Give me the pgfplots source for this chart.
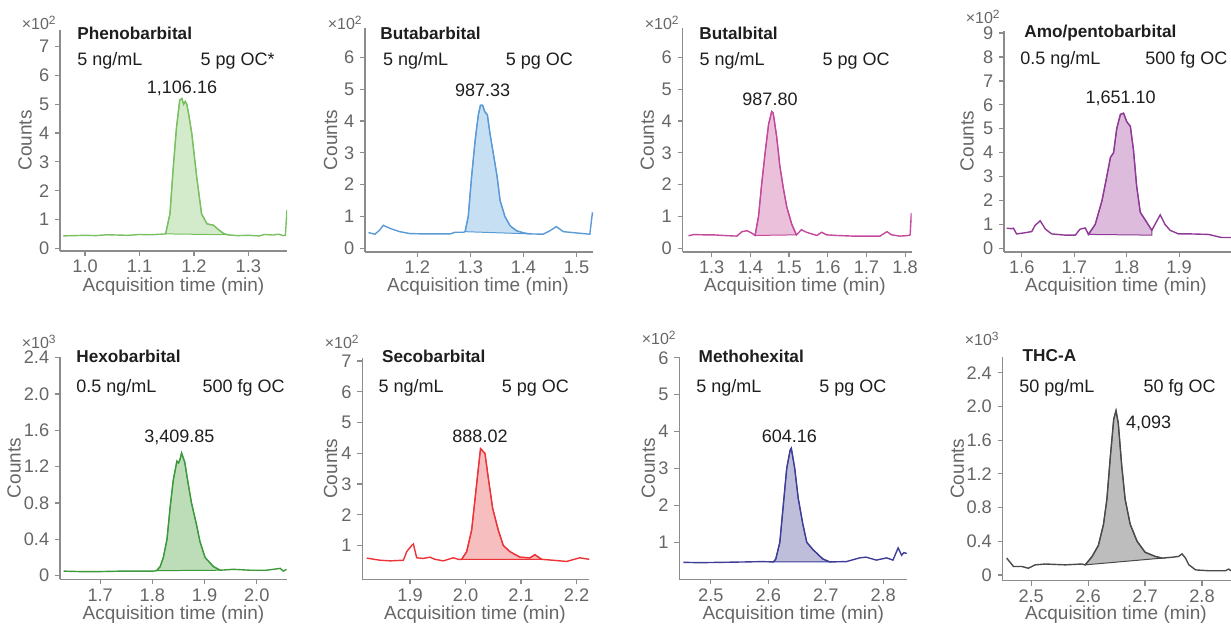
\documentclass[border=0pt]{standalone}
\usepackage{pgfplots}
\pgfplotsset{compat=1.18}
\usepackage{fontspec}
\setmainfont{Liberation Sans}

\definecolor{axgray}{HTML}{8C8C8C}
\definecolor{tkgray}{HTML}{666666}
\definecolor{txt}{HTML}{1E1E1E}
\definecolor{lA}{HTML}{78C060}\definecolor{fA}{HTML}{D3EACB}
\definecolor{lB}{HTML}{5A9AD6}\definecolor{fB}{HTML}{C7DFF3}
\definecolor{lC}{HTML}{C4489C}\definecolor{fC}{HTML}{EBC0DB}
\definecolor{lD}{HTML}{8E3A96}\definecolor{fD}{HTML}{DDBBDD}
\definecolor{lE}{HTML}{3C9A3C}\definecolor{fE}{HTML}{BDDDB8}
\definecolor{lF}{HTML}{EC3338}\definecolor{fF}{HTML}{F6BEBE}
\definecolor{lG}{HTML}{3E3E9A}\definecolor{fG}{HTML}{BEBEDB}
\definecolor{lH}{HTML}{4A4A4A}\definecolor{fH}{HTML}{BDBDBD}

\newcommand{\lab}{\fontsize{9}{10}\selectfont}
\newcommand{\axl}{\fontsize{9.5}{10}\selectfont}
\newcommand{\tkl}{\fontsize{9.1}{10}\selectfont}
\newcommand{\ttl}{\fontsize{8.6}{10}\selectfont\bfseries}

\pgfplotsset{chrom/.style={
  scale only axis, anchor=south west,
  axis lines=left, axis line style={-, draw=axgray, line width=0.7pt},
  tick align=outside, major tick length=2.5pt,
  every tick/.style={axgray, line width=0.6pt},
  tick label style={font=\tkl, text=tkgray},
  xticklabel style={yshift=1.4pt},
  yticklabel style={xshift=0.6pt},
  /pgf/number format/assume math mode=true,
  xticklabel={\pgfmathprintnumber[fixed,fixed zerofill,precision=1]{\tick}},
  scaled ticks=false,
}}

\begin{document}
\begin{tikzpicture}
\path[use as bounding box] (0,0) rectangle (615.5pt,-312.5pt);

% ---- row 1 ----
\begin{axis}[chrom, at={(30pt,-125.5pt)}, width=113.5pt, height=110.5pt,
  xmin=0.954, xmax=1.371, ymin=-0.094, ymax=7.58,
  xtick={1.0,1.1,1.2,1.3}, ytick={0,1,...,7}]
\addplot[fill=fA, draw=lA, line width=0.5pt] coordinates {
  (1.148,0.5)(1.156,1.2)(1.162,2.8)(1.168,4.2)(1.174,5.15)(1.178,5.2)(1.181,5.0)(1.184,5.1)(1.187,5.0)(1.19,4.7)(1.196,4.0)(1.205,2.5)(1.214,1.2)(1.224,0.85)(1.236,0.8)(1.245,0.65)(1.254,0.52)(1.262,0.47)} -- cycle;
\addplot[lA, line width=0.7pt] coordinates {
  (0.96,0.43)(0.98,0.44)(1.00,0.45)(1.02,0.44)(1.04,0.47)(1.06,0.46)(1.08,0.45)(1.10,0.48)(1.12,0.47)(1.14,0.49)
  (1.148,0.5)(1.156,1.2)(1.162,2.8)(1.168,4.2)(1.174,5.15)(1.178,5.2)(1.181,5.0)(1.184,5.1)(1.187,5.0)(1.19,4.7)(1.196,4.0)(1.205,2.5)(1.214,1.2)(1.224,0.85)(1.236,0.8)(1.245,0.65)(1.254,0.52)(1.262,0.47)
  (1.28,0.44)(1.30,0.45)(1.32,0.43)(1.33,0.48)(1.345,0.46)(1.355,0.49)(1.364,0.44)(1.368,0.45)(1.371,1.33)};
\end{axis}

\begin{axis}[chrom, at={(182.5pt,-126pt)}, width=114pt, height=112pt,
  xmin=1.1015, xmax=1.531, ymin=-0.12, ymax=6.93,
  xtick={1.2,1.3,1.4,1.5}, ytick={0,1,...,6}]
\addplot[fill=fB, draw=lB, line width=0.5pt] coordinates {
  (1.29,0.52)(1.296,1.0)(1.302,2.2)(1.309,3.4)(1.315,4.2)(1.319,4.5)(1.323,4.5)(1.327,4.3)(1.332,4.2)(1.337,3.6)(1.343,3.0)(1.35,2.3)(1.356,1.5)(1.365,1.0)(1.375,0.7)(1.387,0.55)(1.40,0.48)(1.412,0.45)} -- cycle;
\addplot[lB, line width=0.7pt] coordinates {
  (1.108,0.49)(1.12,0.44)(1.128,0.55)(1.136,0.72)(1.149,0.62)(1.167,0.52)(1.186,0.46)(1.21,0.45)(1.24,0.45)(1.262,0.45)(1.271,0.5)(1.287,0.5)
  (1.29,0.52)(1.296,1.0)(1.302,2.2)(1.309,3.4)(1.315,4.2)(1.319,4.5)(1.323,4.5)(1.327,4.3)(1.332,4.2)(1.337,3.6)(1.343,3.0)(1.35,2.3)(1.356,1.5)(1.365,1.0)(1.375,0.7)(1.387,0.55)(1.40,0.48)(1.412,0.45)
  (1.437,0.44)(1.45,0.55)(1.462,0.68)(1.475,0.52)(1.50,0.48)(1.525,0.44)(1.53,1.13)};
\end{axis}

\begin{axis}[chrom, at={(341.35pt,-126pt)}, width=114.5pt, height=112pt,
  xmin=1.225, xmax=1.817, ymin=-0.12, ymax=6.93,
  xtick={1.3,1.4,...,1.8}, ytick={0,1,...,6}]
\addplot[fill=fC, draw=lC, line width=0.5pt] coordinates {
  (1.412,0.40)(1.421,1.0)(1.429,2.0)(1.438,3.0)(1.447,3.9)(1.455,4.3)(1.459,4.25)(1.468,3.5)(1.476,2.6)(1.485,1.9)(1.494,1.3)(1.507,0.75)(1.519,0.42)} -- cycle;
\addplot[lC, line width=0.7pt] coordinates {
  (1.24,0.39)(1.253,0.43)(1.28,0.42)(1.304,0.42)(1.33,0.40)(1.365,0.38)(1.378,0.52)(1.391,0.55)(1.403,0.48)
  (1.412,0.40)(1.421,1.0)(1.429,2.0)(1.438,3.0)(1.447,3.9)(1.455,4.3)(1.459,4.25)(1.468,3.5)(1.476,2.6)(1.485,1.9)(1.494,1.3)(1.507,0.75)(1.519,0.42)
  (1.532,0.58)(1.545,0.5)(1.572,0.4)(1.584,0.5)(1.597,0.42)(1.623,0.4)(1.666,0.38)(1.735,0.38)(1.753,0.52)(1.765,0.42)(1.787,0.38)(1.809,0.4)(1.813,0.42)(1.816,1.1)};
\end{axis}

\begin{axis}[chrom, at={(502pt,-126pt)}, width=113.5pt, height=110.65pt,
  xmin=1.566, xmax=1.999, ymin=-0.155, ymax=9.1,
  xtick={1.6,1.7,1.8,1.9}, ytick={0,1,...,9}]
\addplot[fill=fD, draw=lD, line width=0.5pt] coordinates {
  (1.727,0.58)(1.74,1.0)(1.753,2.0)(1.762,3.0)(1.769,3.8)(1.775,4.0)(1.781,5.0)(1.788,5.6)(1.794,5.65)(1.80,5.3)(1.807,5.1)(1.813,4.1)(1.819,2.6)(1.826,1.5)(1.835,1.2)(1.848,0.75)(1.848,0.55)} -- cycle;
\addplot[lD, line width=0.7pt] coordinates {
  (1.571,0.84)(1.58,0.82)(1.584,0.84)(1.59,0.6)(1.606,0.65)(1.619,0.7)(1.625,0.95)(1.635,1.15)(1.645,0.8)(1.657,0.6)(1.683,0.55)(1.702,0.55)(1.711,0.8)(1.721,0.85)
  (1.727,0.58)(1.74,1.0)(1.753,2.0)(1.762,3.0)(1.769,3.8)(1.775,4.0)(1.781,5.0)(1.788,5.6)(1.794,5.65)(1.80,5.3)(1.807,5.1)(1.813,4.1)(1.819,2.6)(1.826,1.5)(1.835,1.2)(1.848,0.75)
  (1.854,1.0)(1.864,1.4)(1.873,1.0)(1.883,0.75)(1.899,0.6)(1.924,0.6)(1.956,0.58)(1.981,0.45)(1.999,0.45)};
\end{axis}

% ---- row 2 ----
\begin{axis}[chrom, at={(30pt,-289.65pt)}, width=113.5pt, height=111.3pt,
  xmin=1.623, xmax=2.058, ymin=-0.04, ymax=2.41,
  xtick={1.7,1.8,1.9,2.0}, ytick={0,0.4,...,2.4}, yticklabels={0,0.4,0.8,1.2,1.6,2.0,2.4}]
\addplot[fill=fE, draw=lE, line width=0.5pt] coordinates {
  (1.808,0.055)(1.815,0.1)(1.821,0.2)(1.828,0.4)(1.834,0.75)(1.84,1.05)(1.847,1.26)(1.85,1.24)(1.853,1.28)(1.856,1.35)(1.862,1.25)(1.869,1.0)(1.875,0.8)(1.885,0.55)(1.891,0.38)(1.901,0.2)(1.917,0.1)(1.93,0.06)} -- cycle;
\addplot[lE, line width=0.7pt] coordinates {
  (1.63,0.05)(1.66,0.045)(1.70,0.045)(1.74,0.05)(1.78,0.05)(1.802,0.05)
  (1.808,0.055)(1.815,0.1)(1.821,0.2)(1.828,0.4)(1.834,0.75)(1.84,1.05)(1.847,1.26)(1.85,1.24)(1.853,1.28)(1.856,1.35)(1.862,1.25)(1.869,1.0)(1.875,0.8)(1.885,0.55)(1.891,0.38)(1.901,0.2)(1.917,0.1)(1.93,0.06)
  (1.955,0.07)(1.987,0.06)(2.019,0.06)(2.045,0.08)(2.051,0.05)(2.057,0.07)};
\end{axis}

\begin{axis}[chrom, at={(181.15pt,-289.65pt)}, width=113.5pt, height=110.65pt,
  xmin=1.814, xmax=2.223, ymin=-0.1, ymax=7.1,
  xtick={1.9,2.0,2.1,2.2}, ytick={1,2,...,7}]
\addplot[fill=fF, draw=lF, line width=0.5pt] coordinates {
  (1.993,0.55)(2.002,0.8)(2.011,1.5)(2.017,2.5)(2.023,3.5)(2.027,4.15)(2.035,4.0)(2.041,3.2)(2.049,2.2)(2.059,1.5)(2.068,1.0)(2.08,0.8)(2.098,0.62)(2.116,0.6)(2.125,0.7)(2.137,0.55)} -- cycle;
\addplot[lF, line width=0.7pt] coordinates {
  (1.822,0.59)(1.846,0.52)(1.864,0.5)(1.888,0.52)(1.894,0.8)(1.903,1.0)(1.906,1.05)(1.912,0.6)(1.924,0.58)(1.936,0.62)(1.945,0.55)(1.96,0.5)(1.978,0.6)(1.987,0.55)
  (1.993,0.55)(2.002,0.8)(2.011,1.5)(2.017,2.5)(2.023,3.5)(2.027,4.15)(2.035,4.0)(2.041,3.2)(2.049,2.2)(2.059,1.5)(2.068,1.0)(2.08,0.8)(2.098,0.62)(2.116,0.6)(2.125,0.7)(2.137,0.55)
  (2.158,0.52)(2.182,0.48)(2.206,0.6)(2.223,0.55)};
\end{axis}

\begin{axis}[chrom, at={(339.65pt,-289.65pt)}, width=114pt, height=111.15pt,
  xmin=2.445, xmax=2.842, ymin=0, ymax=6.02,
  xtick={2.5,2.6,2.7,2.8}, ytick={1,2,...,6}]
\addplot[fill=fG, draw=lG, line width=0.5pt] coordinates {
  (2.609,0.47)(2.613,0.55)(2.62,1.0)(2.626,2.0)(2.632,3.0)(2.638,3.5)(2.64,3.55)(2.646,3.0)(2.652,2.2)(2.66,1.5)(2.667,1.0)(2.678,0.8)(2.695,0.55)(2.707,0.47)} -- cycle;
\addplot[lG, line width=0.7pt] coordinates {
  (2.452,0.46)(2.48,0.45)(2.52,0.46)(2.56,0.47)(2.59,0.48)
  (2.609,0.47)(2.613,0.55)(2.62,1.0)(2.626,2.0)(2.632,3.0)(2.638,3.5)(2.64,3.55)(2.646,3.0)(2.652,2.2)(2.66,1.5)(2.667,1.0)(2.678,0.8)(2.695,0.55)(2.707,0.47)
  (2.736,0.48)(2.759,0.58)(2.77,0.6)(2.788,0.52)(2.806,0.58)(2.817,0.52)(2.826,0.85)(2.832,0.65)(2.836,0.72)(2.841,0.7)};
\end{axis}

\begin{axis}[chrom, at={(501.35pt,-290.35pt)}, width=114.15pt, height=112pt,
  xmin=2.45, xmax=2.851, ymin=-0.068, ymax=2.59,
  xtick={2.5,2.6,2.7,2.8}, ytick={0,0.4,...,2.4}, yticklabels={0,0.4,0.8,1.2,1.6,2.0,2.4}]
\addplot[fill=fH, draw=lH, line width=0.5pt] coordinates {
  (2.595,0.12)(2.607,0.22)(2.618,0.35)(2.627,0.6)(2.633,0.9)(2.639,1.4)(2.645,1.85)(2.649,1.95)(2.653,1.8)(2.659,1.3)(2.665,0.9)(2.674,0.6)(2.686,0.4)(2.70,0.27)(2.718,0.22)(2.73,0.2)} -- cycle;
\addplot[lH, line width=0.7pt] coordinates {
  (2.457,0.2)(2.469,0.1)(2.484,0.1)(2.495,0.08)(2.507,0.12)(2.525,0.13)(2.56,0.12)(2.589,0.13)
  (2.595,0.12)(2.607,0.22)(2.618,0.35)(2.627,0.6)(2.633,0.9)(2.639,1.4)(2.645,1.85)(2.649,1.95)(2.653,1.8)(2.659,1.3)(2.665,0.9)(2.674,0.6)(2.686,0.4)(2.70,0.27)(2.718,0.22)(2.73,0.2)
  (2.747,0.21)(2.759,0.22)(2.765,0.25)(2.771,0.2)(2.777,0.12)(2.789,0.06)(2.812,0.05)(2.841,0.05)(2.847,0.07)(2.851,0.05)};
\end{axis}

% ---- text, in pixel units of the reference ----
\begin{scope}[x=0.5pt, y=-0.5pt, every node/.style={inner sep=0pt, text=txt, font=\lab}]
% scale factors
\foreach \x/\y/\s in {57/23/2, 363/23/2, 680/23/2, 1001/17/2, 57/342/3, 360/342/2, 677/338/2, 1000/339/3}
  \node[anchor=east, text=tkgray, font=\fontsize{8}{9}\selectfont] at (\x,\y) {×10\textsuperscript{\s}};
% y labels
\foreach \x/\y in {25/140.5, 330.7/140, 647.3/140, 967/141, 14/468, 330.7/468.7, 648.3/468, 957.3/468.7}
  \node[rotate=90, text=tkgray, font=\axl] at (\x,\y) {Counts};
% x labels
\foreach \x/\y in {173.5/287, 478/287, 795/287, 1116/287, 173.5/614.5, 475/614.5, 793.3/614.5, 1116/614.5}
  \node[text=tkgray, font=\axl] at (\x,\y) {Acquisition time (min)};
% titles
\node[anchor=west, font=\ttl] at (77,33) {Phenobarbital};
\node[anchor=west, font=\ttl] at (380,33) {Butabarbital};
\node[anchor=west, font=\ttl] at (699,33) {Butalbital};
\node[anchor=west, font=\ttl] at (1024,33) {Amo/pentobarbital};
\node[anchor=west, font=\ttl] at (76,356) {Hexobarbital};
\node[anchor=west, font=\ttl] at (381.7,356) {Secobarbital};
\node[anchor=west, font=\ttl] at (698.3,356) {Methohexital};
\node[anchor=west, font=\ttl] at (1022.3,356) {THC-A};
% concentrations
\node[anchor=west] at (77,61) {5 ng/mL};      \node[anchor=east] at (275,61) {5 pg OC*};
\node[anchor=west] at (382.7,61) {5 ng/mL};   \node[anchor=east] at (573.3,61) {5 pg OC};
\node[anchor=west] at (699.3,61) {5 ng/mL};   \node[anchor=east] at (890,61) {5 pg OC};
\node[anchor=west] at (1020,60) {0.5 ng/mL};  \node[anchor=east] at (1227.7,60) {500 fg OC};
\node[anchor=west] at (76,388.3) {0.5 ng/mL}; \node[anchor=east] at (285,388.3) {500 fg OC};
\node[anchor=west] at (378.3,387.7) {5 ng/mL}; \node[anchor=east] at (569.3,387.7) {5 pg OC};
\node[anchor=west] at (696,388.3) {5 ng/mL};  \node[anchor=east] at (886.7,388.3) {5 pg OC};
\node[anchor=west] at (1019,388.3) {50 pg/mL}; \node[anchor=east] at (1216,388.3) {50 fg OC};
% peak areas
\node at (182,88) {1,106.16};
\node at (482.7,90) {987.33};
\node at (770,99.3) {987.80};
\node at (1120.7,98.7) {1,651.10};
\node at (179.3,437.7) {3,409.85};
\node at (480,436) {888.02};
\node at (789.3,436) {604.16};
\node[anchor=west] at (1125.7,423.3) {4,093};
\end{scope}
\end{tikzpicture}
\end{document}
